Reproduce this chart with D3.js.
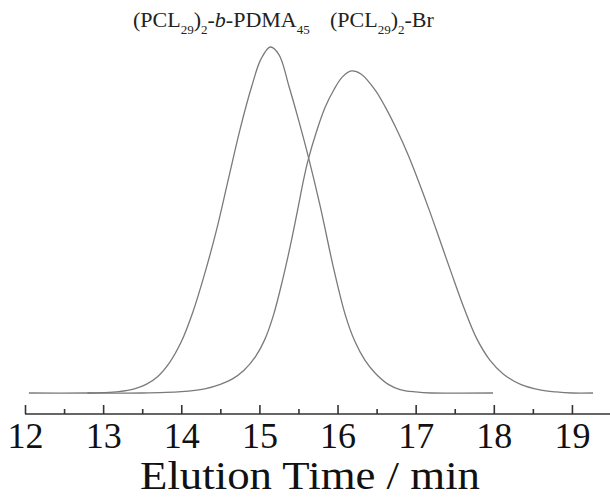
<!DOCTYPE html>
<html><head><meta charset="utf-8">
<script src="https://cdn.jsdelivr.net/npm/d3@7"></script>
<style>html,body{margin:0;padding:0;background:#fff;}svg{display:block;}</style>
</head><body>
<svg id="c" width="610" height="498"></svg>
<script>
// Elution time (min) and normalized detector signal
const pdmaTime = [12.05,12.8,13.0,13.2,13.4,13.55,13.7,13.85,14.0,14.15,14.3,14.45,14.6,14.75,14.9,15.02,15.14,15.25,15.38,15.5,15.62,15.78,15.95,16.1,16.22,16.35,16.48,16.65,16.8,17.0,17.2,17.99];
const pdmaSignal = [0,0,0.001,0.004,0.012,0.025,0.048,0.088,0.148,0.235,0.345,0.47,0.615,0.76,0.885,0.965,1.0,0.978,0.885,0.79,0.688,0.538,0.36,0.225,0.15,0.095,0.058,0.025,0.01,0.003,0,0];
const brTime = [12.8,13.5,14.0,14.3,14.5,14.65,14.8,14.95,15.07,15.18,15.3,15.4,15.49,15.56,15.62,15.73,15.84,15.95,16.06,16.18,16.3,16.48,16.61,16.75,16.9,17.04,17.18,17.32,17.46,17.62,17.78,17.95,18.12,18.35,18.59,18.8,19.0,19.27];
const brSignal = [0,0,0.004,0.012,0.025,0.04,0.065,0.105,0.155,0.225,0.33,0.43,0.53,0.61,0.67,0.755,0.825,0.875,0.913,0.931,0.922,0.876,0.827,0.765,0.69,0.61,0.525,0.435,0.345,0.245,0.158,0.095,0.055,0.024,0.009,0.003,0,0];
const majorTicks = [12,13,14,15,16,17,18,19];
const minorTicks = [12.5,13.5,14.5,15.5,16.5,17.5,18.5,19.5];
const xTitle = "Elution Time / min";

const svg = d3.select("#c");
const font = "'Liberation Serif','Times New Roman',serif";
const x = d3.scaleLinear().domain([12, 19.5]).range([25, 611]);
const y = d3.scaleLinear().domain([0, 1]).range([393, 47]);
const axisY = 414;

const line = d3.line().x(d => x(d[0])).y(d => y(d[1])).curve(d3.curveCatmullRom.alpha(0.5));
const series = [d3.zip(pdmaTime, pdmaSignal), d3.zip(brTime, brSignal)];
svg.selectAll("path.curve").data(series).join("path")
  .attr("class","curve")
  .attr("d", line)
  .attr("fill","none")
  .attr("stroke","#7a7a7a")
  .attr("stroke-width",1.3);

const gMinor = svg.append("g").attr("transform",`translate(0,${axisY})`)
  .call(d3.axisBottom(x).tickValues(minorTicks).tickSizeInner(-5).tickSizeOuter(0).tickFormat(""));
gMinor.select(".domain").remove();
const gMajor = svg.append("g").attr("transform",`translate(0,${axisY})`)
  .call(d3.axisBottom(x).tickValues(majorTicks).tickSizeInner(-9).tickSizeOuter(0).tickFormat(d3.format("d")));
gMajor.attr("font-family",null).attr("font-size",null);
gMajor.select(".domain").attr("stroke","#333").attr("stroke-width",1.6).attr("d",`M${x(12)},0H610`);
svg.selectAll(".tick line").attr("stroke","#333").attr("stroke-width",1.6);
gMajor.selectAll(".tick text")
  .attr("y",34).attr("dy",null)
  .style("font-family",font).style("font-size","36px").attr("fill","#111");

svg.append("text").attr("x",310).attr("y",489).attr("text-anchor","middle")
  .attr("textLength",340).attr("lengthAdjust","spacingAndGlyphs")
  .style("font-family",font).style("font-size","40px").attr("fill","#111").text(xTitle);

function label(xp, parts){
  const t = svg.append("text").attr("x",xp).attr("y",27).style("font-family",font).style("font-size","22px").attr("fill","#222");
  parts.forEach(p=>{
    const ts = t.append("tspan").text(p.t);
    if(p.sub){ ts.style("font-size","13px").attr("dy",7); }
    else if(p.after){ ts.attr("dy",-7); }
    if(p.i) ts.style("font-style","italic");
  });
}
label(133,[{t:"(PCL"},{t:"29",sub:1},{t:")",after:1},{t:"2",sub:1},{t:"-",after:1},{t:"b",i:1},{t:"-PDMA"},{t:"45",sub:1}]);
label(330,[{t:"(PCL"},{t:"29",sub:1},{t:")",after:1},{t:"2",sub:1},{t:"-Br",after:1}]);
</script>
</body></html>
